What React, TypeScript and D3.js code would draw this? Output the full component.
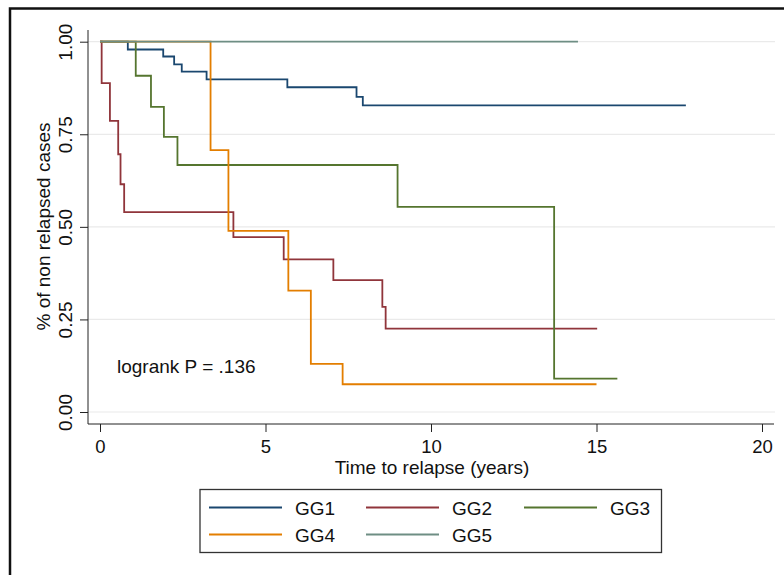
import React, { useEffect, useRef } from 'react';
import * as d3 from 'd3';

// Kaplan-Meier step curves
const groupNames = ['GG1', 'GG2', 'GG3', 'GG4', 'GG5'];
const groupColors = ['#1a476f', '#90353b', '#55752f', '#e37e00', '#6e8e84'];

const gg1Time = [0, 0.84, 1.91, 2.24, 2.47, 3.22, 5.66, 7.75, 7.94, 17.7];
const gg1Surv = [1, 0.979, 0.96, 0.939, 0.919, 0.898, 0.877, 0.851, 0.828, 0.828];

const gg2Time = [0, 0.05, 0.3, 0.55, 0.62, 0.73, 4.03, 5.55, 7.05, 8.53, 8.63, 15.02];
const gg2Surv = [1, 0.888, 0.786, 0.696, 0.615, 0.54, 0.472, 0.412, 0.356, 0.284, 0.225, 0.225];

const gg3Time = [0, 1.08, 1.54, 1.93, 2.34, 8.99, 13.72, 15.63];
const gg3Surv = [1, 0.908, 0.824, 0.743, 0.667, 0.554, 0.09, 0.09];

const gg4Time = [0, 3.34, 3.88, 5.69, 6.37, 7.33, 15.0];
const gg4Surv = [1, 0.707, 0.489, 0.328, 0.13, 0.075, 0.075];

const gg5Time = [0, 14.44];
const gg5Surv = [1, 1];

const xTicks = [0, 5, 10, 15, 20];
const yTicks = [0, 0.25, 0.5, 0.75, 1];

const W = 784;
const H = 575;
const FONT = 'Arial, "Liberation Sans", sans-serif';

const App = () => {
    const ref = useRef(null);

    useEffect(() => {
        if (!ref.current) return;
        const svg = d3.select(ref.current);
        svg.selectAll('*').remove();

        svg.append('rect').attr('width', W).attr('height', H).attr('fill', '#fff');

        // outer frame (only top and left visible in the crop)
        svg.append('rect')
            .attr('x', 10).attr('y', 8.5)
            .attr('width', 900).attr('height', 700)
            .attr('fill', 'none').attr('stroke', '#111').attr('stroke-width', 2.5);

        const x = d3.scaleLinear().domain([0, 20]).range([100, 762]);
        const y = d3.scaleLinear().domain([0, 1]).range([412, 41.7]);
        const axisX = 88;
        const axisY = 424;

        // gridlines
        svg.append('g').selectAll('line').data(yTicks).join('line')
            .attr('x1', axisX).attr('x2', 775)
            .attr('y1', d => y(d)).attr('y2', d => y(d))
            .attr('stroke', '#eaeaea').attr('stroke-width', 1.2);

        // y axis
        const gy = svg.append('g').attr('transform', `translate(${axisX},0)`)
            .call(d3.axisLeft(y).tickValues(yTicks).tickSize(8).tickFormat(d3.format('.2f')));
        gy.select('.domain').attr('d', `M0,30V${axisY}`).attr('stroke', '#222');
        gy.selectAll('.tick line').attr('stroke', '#222');
        gy.selectAll('.tick text')
            .attr('font-family', FONT).attr('font-size', 19).attr('fill', '#111')
            .attr('transform', 'rotate(-90)')
            .attr('x', 0).attr('y', -16.5).attr('dy', 0)
            .attr('text-anchor', 'middle');

        // x axis
        const gx = svg.append('g').attr('transform', `translate(0,${axisY})`)
            .call(d3.axisBottom(x).tickValues(xTicks).tickSize(8).tickFormat(d3.format('d')));
        gx.select('.domain').attr('d', `M${axisX},0H774`).attr('stroke', '#222');
        gx.selectAll('.tick line').attr('stroke', '#222');
        gx.selectAll('.tick text')
            .attr('font-family', FONT).attr('font-size', 18.5).attr('fill', '#111')
            .attr('y', 29).attr('dy', 0);

        // axis titles
        svg.append('text')
            .attr('x', 432).attr('y', 474)
            .attr('text-anchor', 'middle')
            .attr('font-family', FONT).attr('font-size', 19).attr('fill', '#111')
            .text('Time to relapse (years)');
        svg.append('text')
            .attr('transform', 'translate(50,226.5) rotate(-90)')
            .attr('text-anchor', 'middle')
            .attr('font-family', FONT).attr('font-size', 19).attr('fill', '#111')
            .text('% of non relapsed cases');

        // curves
        const series = [
            [gg1Time, gg1Surv],
            [gg2Time, gg2Surv],
            [gg3Time, gg3Surv],
            [gg4Time, gg4Surv],
            [gg5Time, gg5Surv],
        ];
        const line = d3.line()
            .x(d => x(d[0]))
            .y(d => y(d[1]))
            .curve(d3.curveStepAfter);

        series.forEach(([t, s], i) => {
            svg.append('path')
                .datum(t.map((v, j) => [v, s[j]]))
                .attr('fill', 'none')
                .attr('stroke', groupColors[i])
                .attr('stroke-width', 1.8)
                .attr('d', line);
        });

        svg.append('text')
            .attr('x', 117).attr('y', 373)
            .attr('font-family', FONT).attr('font-size', 19).attr('fill', '#111')
            .text('logrank P = .136');

        // legend
        const lg = svg.append('g');
        lg.append('rect')
            .attr('x', 200).attr('y', 489.5)
            .attr('width', 461.5).attr('height', 63)
            .attr('fill', '#fff').attr('stroke', '#333').attr('stroke-width', 1.3);
        const colX = [209, 366, 524];
        const rowY = [507.5, 534.5];
        groupNames.forEach((name, i) => {
            const cx = colX[i % 3];
            const cy = rowY[Math.floor(i / 3)];
            lg.append('line')
                .attr('x1', cx).attr('x2', cx + 73)
                .attr('y1', cy).attr('y2', cy)
                .attr('stroke', groupColors[i]).attr('stroke-width', 1.8);
            lg.append('text')
                .attr('x', cx + 86).attr('y', cy + 7)
                .attr('font-family', FONT).attr('font-size', 19).attr('fill', '#111')
                .text(name);
        });
    }, []);

    return (
        <div style={{ position: 'fixed', left: 0, top: 0 }}>
            <svg ref={ref} width={W} height={H} style={{ display: 'block' }} />
        </div>
    );
};

export default App;
